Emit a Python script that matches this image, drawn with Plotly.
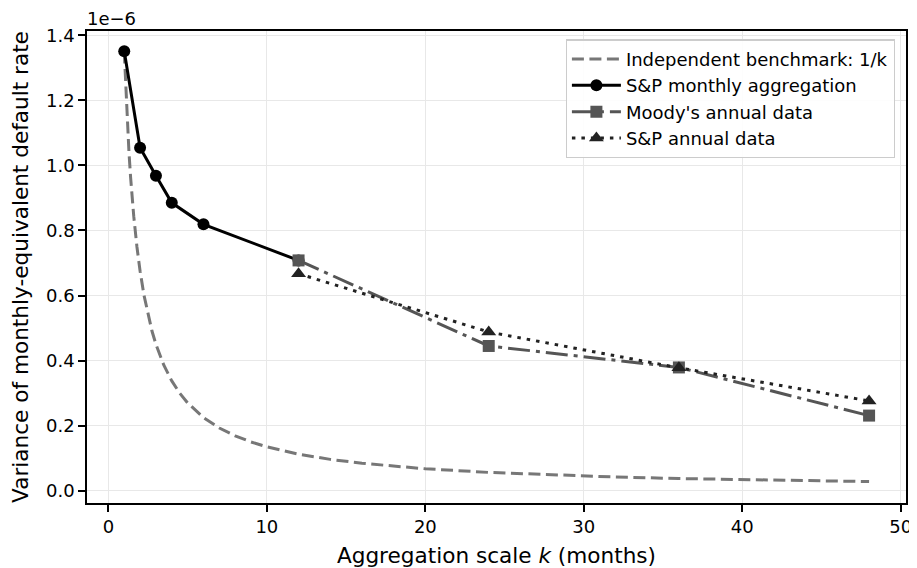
import plotly.graph_objects as go

# Data (variance in units of 1e-6)
bench_k = [1, 1.1, 1.2, 1.3, 1.4, 1.5, 1.6, 1.8, 2, 2.25, 2.5, 2.75, 3, 3.5, 4, 4.5, 5, 6, 7, 8, 9, 10,
           12, 14, 16, 18, 20, 24, 28, 32, 36, 40, 44, 48]
bench_v = [1.35, 1.2273, 1.125, 1.0385, 0.9643, 0.9, 0.8438, 0.75, 0.675, 0.6, 0.54, 0.4909, 0.45,
           0.3857, 0.3375, 0.3, 0.27, 0.225, 0.1929, 0.1688, 0.15, 0.135, 0.1125, 0.0964, 0.0844,
           0.075, 0.0675, 0.0563, 0.0482, 0.0422, 0.0375, 0.0338, 0.0307, 0.0281]

monthly_k = [1, 2, 3, 4, 6, 12]
monthly_v = [1.351, 1.054, 0.968, 0.885, 0.819, 0.708]

moody_k = [12, 24, 36, 48]
moody_v = [0.708, 0.445, 0.379, 0.231]

sp_k = [12, 24, 36, 48]
sp_v = [0.667, 0.488, 0.378, 0.276]

x_ticks = [0, 10, 20, 30, 40, 50]
y_ticks = [0.0, 0.2, 0.4, 0.6, 0.8, 1.0, 1.2, 1.4]

FONT = "DejaVu Sans"
TICK = 18
LABEL = 21.6

fig = go.Figure()
fig.add_trace(go.Scatter(x=bench_k, y=bench_v, mode="lines", name="Independent benchmark: 1/k",
                         line=dict(color="#777777", width=3, dash="12px,5.5px")))
fig.add_trace(go.Scatter(x=monthly_k, y=monthly_v, mode="lines+markers", name="S&P monthly aggregation",
                         line=dict(color="black", width=3),
                         marker=dict(symbol="circle", size=12, color="black")))
fig.add_trace(go.Scatter(x=moody_k, y=moody_v, mode="lines+markers", name="Moody's annual data",
                         line=dict(color="#555555", width=3, dash="22px,6px,4px,6px"),
                         marker=dict(symbol="square", size=12, color="#555555")))
fig.add_trace(go.Scatter(x=sp_k, y=sp_v, mode="lines+markers", name="S&P annual data",
                         line=dict(color="#222222", width=3, dash="3.5px,6px"),
                         marker=dict(symbol="triangle-up", size=13, color="#222222")))

axis_common = dict(showline=True, linecolor="black", linewidth=1.5, mirror=True,
                   ticks="outside", ticklen=7, tickwidth=1.5, tickcolor="black",
                   showgrid=True, gridcolor="#e8e8e8", gridwidth=1.2, zeroline=False,
                   automargin=False,
                   tickfont=dict(family=FONT, size=TICK, color="black"))

# The page body adds an 8px offset, so the figure is 8px smaller and margins shifted.
fig.update_layout(
    width=909, height=560,
    margin=dict(l=79, r=10.5, t=22.7, b=64.7),
    paper_bgcolor="white", plot_bgcolor="white",
    font=dict(family=FONT, color="black"),
    showlegend=True,
    legend=dict(x=0.5845, y=0.982, xanchor="left", yanchor="top",
                bgcolor="rgba(255,255,255,0.9)", bordercolor="#cccccc", borderwidth=1.2,
                font=dict(family=FONT, size=TICK, color="black"),
                tracegroupgap=0, itemwidth=49),
    xaxis=dict(range=[-1.35, 50.33], tickvals=x_ticks,
               title=dict(text="Aggregation scale <i>k</i> (months)", font=dict(family=FONT, size=LABEL),
                          standoff=14),
               **axis_common),
    yaxis=dict(range=[-0.0377, 1.4132], tickvals=y_ticks, tickformat=".1f",
               title=dict(text="Variance of monthly-equivalent default rate", font=dict(family=FONT, size=LABEL),
                          standoff=14),
               **axis_common),
)

fig.add_annotation(text="1e\u22126", xref="paper", yref="paper", x=0, y=1, xanchor="left",
                   yanchor="bottom", showarrow=False, yshift=0, xshift=-2,
                   font=dict(family=FONT, size=TICK, color="black"))

fig.write_html("out.html")
